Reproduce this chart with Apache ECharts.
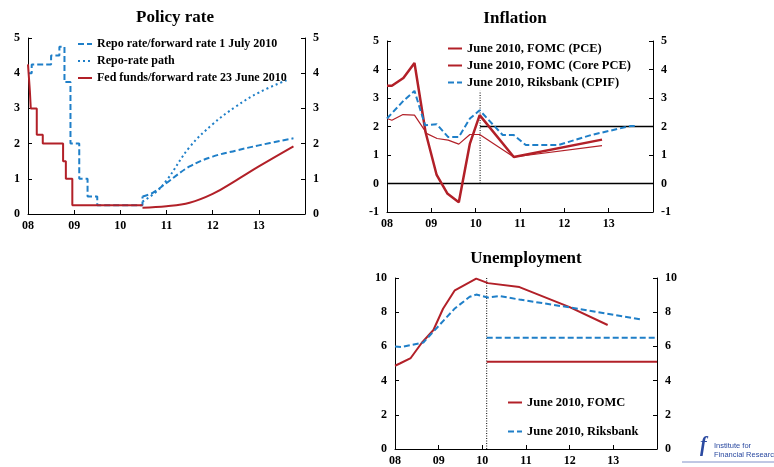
<!DOCTYPE html>
<html>
<head>
  <meta charset="utf-8" />
  <script src="https://cdn.jsdelivr.net/npm/echarts@6/dist/echarts.min.js"></script>
  <style>
    * { margin: 0; padding: 0; }
    #chart-container { width: 774px; height: 467px; background: #fff; }
  </style>
</head>
<body>
  <div id="chart-container"></div>
  <script>
    // policy rate, [year, percent]
    const repoRate = [[2008.0, 4.0], [2008.08, 4.25], [2008.5, 4.5], [2008.68, 4.75], [2008.79, 3.75], [2008.92, 2.0], [2009.11, 1.0], [2009.29, 0.5], [2009.5, 0.25], [2010.48, 0.5]];
    const repoForward = [[2010.48, 0.5], [2010.7, 0.6], [2011.0, 0.88], [2011.5, 1.35], [2012.0, 1.63], [2012.5, 1.8], [2013.0, 1.95], [2013.75, 2.15]];
    const repoPath = [[2010.48, 0.35], [2010.75, 0.6], [2011.0, 0.95], [2011.5, 1.9], [2012.0, 2.55], [2012.5, 3.05], [2013.0, 3.45], [2013.6, 3.8]];
    const fedFunds = [[2008.0, 4.25], [2008.04, 3.5], [2008.06, 3.0], [2008.19, 2.25], [2008.32, 2.0], [2008.76, 1.5], [2008.82, 1.0], [2008.96, 0.25], [2010.48, 0.25]];
    const fedForward = [[2010.48, 0.18], [2011.0, 0.22], [2011.5, 0.32], [2012.0, 0.57], [2012.5, 0.95], [2013.0, 1.35], [2013.75, 1.92]];

    // inflation
    const pce = [[2008.0, 3.43], [2008.11, 3.43], [2008.37, 3.7], [2008.62, 4.23], [2008.87, 1.8], [2009.12, 0.3], [2009.36, -0.35], [2009.62, -0.66], [2009.87, 1.4], [2010.09, 2.4], [2010.86, 0.93], [2012.85, 1.54]];
    const corePce = [[2008.0, 2.28], [2008.11, 2.22], [2008.36, 2.42], [2008.62, 2.4], [2008.9, 1.75], [2009.13, 1.58], [2009.38, 1.52], [2009.62, 1.38], [2009.87, 1.72], [2010.09, 1.72], [2010.86, 0.93], [2012.85, 1.33]];
    const cpif = [[2008.0, 2.28], [2008.37, 2.9], [2008.62, 3.25], [2008.86, 2.04], [2009.12, 2.08], [2009.38, 1.63], [2009.62, 1.63], [2009.87, 2.28], [2010.09, 2.57], [2010.61, 1.7], [2010.86, 1.7], [2011.13, 1.35], [2011.87, 1.35], [2012.6, 1.7], [2013.5, 2.02], [2013.65, 2.02]];
    const inflTarget = [[2010.1, 2], [2014, 2]];

    // unemployment
    const unFomc = [[2008.0, 4.87], [2008.11, 5.0], [2008.36, 5.32], [2008.61, 6.2], [2008.88, 6.96], [2009.1, 8.2], [2009.37, 9.28], [2009.86, 9.96], [2010.13, 9.7], [2010.85, 9.47], [2012.0, 8.3], [2012.87, 7.25]];
    const unRiks = [[2008.0, 6.0], [2008.15, 5.96], [2008.65, 6.23], [2008.88, 6.87], [2009.37, 8.22], [2009.71, 8.9], [2009.86, 9.03], [2010.13, 8.86], [2010.4, 8.94], [2010.85, 8.74], [2012.0, 8.28], [2013.63, 7.58]];
    const unLongFomc = [[2010.1, 5.1], [2014, 5.1]];
    const unLongRiks = [[2010.1, 6.5], [2014, 6.5]];

    const forecastStart = 2010.1;
    const yearLabels = { 2008: '08', 2009: '09', 2010: '10', 2011: '11', 2012: '12', 2013: '13' };

    const RED = '#b22028', BLUE = '#1f7fc8';
    const font = { fontFamily: 'Liberation Serif', fontWeight: 'bold', color: '#000' };

    var dom = document.getElementById('chart-container');
    var myChart = echarts.init(dom, null, { renderer: 'canvas' });

    const grids = [
      { left: 28, top: 38, width: 277, height: 176 },
      { left: 387, top: 41, width: 266, height: 171 },
      { left: 395, top: 278, width: 262, height: 172 }
    ];
    const yRanges = [[0, 5, 1], [-1, 5, 1], [0, 10, 2]];

    const xAxis = grids.map((g, i) => ({
      type: 'value', gridIndex: i, min: 2008, max: 2014, interval: 1,
      axisLine: { onZero: false, lineStyle: { color: '#000' } },
      axisTick: { inside: true, length: 4, lineStyle: { color: '#000' } },
      splitLine: { show: false },
      axisLabel: Object.assign({ fontSize: 12, margin: 6, formatter: v => yearLabels[v] || '' }, font)
    }));
    const yAxis = [];
    yRanges.forEach((r, i) => {
      ['left', 'right'].forEach(pos => yAxis.push({
        type: 'value', gridIndex: i, position: pos, min: r[0], max: r[1], interval: r[2],
        axisLine: { show: true, lineStyle: { color: '#000' } },
        axisTick: { show: true, inside: true, length: 4, lineStyle: { color: '#000' } },
        splitLine: { show: false },
        axisLabel: Object.assign({ fontSize: 12, margin: 8 }, font)
      }));
    });

    const line = (name, data, g, color, width, type, extra) => Object.assign({
      name, type: 'line', data, xAxisIndex: g, yAxisIndex: g * 2,
      symbol: 'none', animation: false,
      lineStyle: { color, width, type }, itemStyle: { color }
    }, extra || {});

    const series = [
      line('Repo rate/forward rate 1 July 2010', repoRate, 0, BLUE, 2, [6, 3], { step: 'end' }),
      line('repoFwd', repoForward, 0, BLUE, 2, [6, 3], { smooth: 0.4 }),
      line('Repo-rate path', repoPath, 0, BLUE, 2, [2, 3], { smooth: 0.4 }),
      line('Fed funds/forward rate 23 June 2010', fedFunds, 0, RED, 2, 'solid', { step: 'end' }),
      line('fedFwd', fedForward, 0, RED, 2, 'solid', { smooth: 0.4 }),

      line('zero', [[2008, 0], [2014, 0]], 1, '#000', 1.3, 'solid'),
      line('target', inflTarget, 1, '#000', 1.3, 'solid'),
      line('fc1', [[forecastStart, 0], [forecastStart, 3.25]], 1, '#000', 1, [1, 1.5]),
      line('June 2010, FOMC (PCE)', pce, 1, RED, 2.5, 'solid'),
      line('June 2010, FOMC (Core PCE)', corePce, 1, RED, 1.2, 'solid'),
      line('June 2010, Riksbank (CPIF)', cpif, 1, BLUE, 2, [6, 3]),

      line('fc2', [[forecastStart, 0], [forecastStart, 10]], 2, '#000', 1, [1, 1.5]),
      line('June 2010, FOMC', unFomc, 2, RED, 2, 'solid'),
      line('June 2010, Riksbank', unRiks, 2, BLUE, 2, [6, 3]),
      line('ulf', unLongFomc, 2, RED, 2, 'solid'),
      line('ulr', unLongRiks, 2, BLUE, 2, [6, 3])
    ];

    const mkLegend = (data, left, top, gap, size) => ({
      data, left, top, orient: 'vertical', itemGap: gap, itemWidth: 14, itemHeight: 10,
      itemStyle: { opacity: 0 }, textStyle: Object.assign({ fontSize: size }, font),
      padding: 0, selectedMode: false
    });

    option = {
      backgroundColor: '#fff',
      animation: false,
      title: [
        { text: 'Policy rate', left: 170, top: 4, textAlign: 'center', textStyle: Object.assign({ fontSize: 17 }, font) },
        { text: 'Inflation', left: 510, top: 5, textAlign: 'center', textStyle: Object.assign({ fontSize: 17 }, font) },
        { text: 'Unemployment', left: 521, top: 245, textAlign: 'center', textStyle: Object.assign({ fontSize: 17 }, font) }
      ],
      legend: [
        mkLegend(['Repo rate/forward rate 1 July 2010', 'Repo-rate path', 'Fed funds/forward rate 23 June 2010'], 77, 38, 5, 12),
        mkLegend(['June 2010, FOMC (PCE)', 'June 2010, FOMC (Core PCE)', 'June 2010, Riksbank (CPIF)'], 447, 42, 4, 12.5),
        mkLegend(['June 2010, FOMC', 'June 2010, Riksbank'], 507, 396, 16, 12.5)
      ],
      grid: grids,
      xAxis, yAxis, series,
      graphic: [
        { type: 'text', left: 714, top: 441, style: { text: 'Institute for\nFinancial Research', fill: '#2b4aa0', font: '7.5px "Liberation Sans"', lineHeight: 9 } },
        { type: 'text', left: 700, top: 436, style: { text: 'f', fill: '#2b4aa0', font: 'italic bold 20px "Liberation Serif"' } },
        { type: 'line', shape: { x1: 682, y1: 462, x2: 774, y2: 462 }, style: { stroke: '#8090c8', lineWidth: 1 } }
      ]
    };

    myChart.setOption(option);
    window.addEventListener('resize', myChart.resize);
  </script>
</body>
</html>
